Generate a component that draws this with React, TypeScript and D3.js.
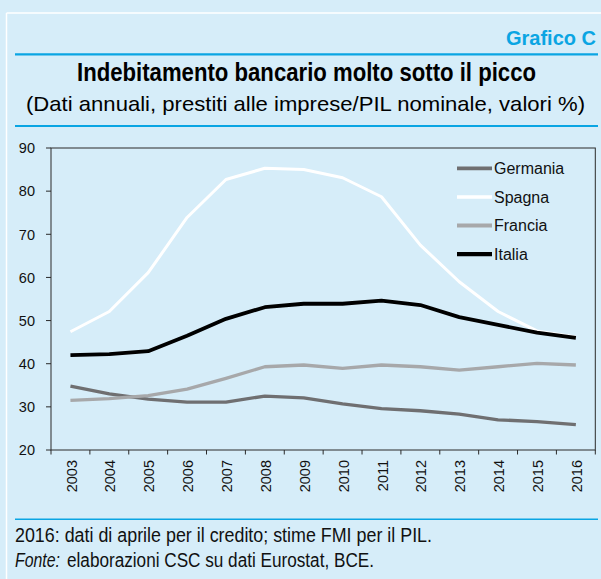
import React from "react";
import * as d3 from "d3";

// anni sull'asse x
const years = ["2003", "2004", "2005", "2006", "2007", "2008", "2009", "2010", "2011", "2012", "2013", "2014", "2015", "2016"];

// prestiti alle imprese / PIL nominale, valori %
const germania = [34.8, 33.0, 31.8, 31.1, 31.1, 32.5, 32.1, 30.7, 29.6, 29.1, 28.3, 27.0, 26.6, 25.9];
const spagna = [47.4, 52.1, 61.1, 73.9, 82.7, 85.3, 85.0, 83.1, 78.7, 67.5, 59.0, 52.1, 47.6, 46.2];
const francia = [31.5, 31.9, 32.6, 34.1, 36.6, 39.3, 39.7, 38.9, 39.7, 39.3, 38.5, 39.3, 40.1, 39.7];
const italia = [42.0, 42.2, 42.9, 46.5, 50.4, 53.1, 53.9, 53.9, 54.6, 53.6, 50.8, 49.0, 47.2, 46.0];

const yTicks = [20, 30, 40, 50, 60, 70, 80, 90];

const seriesNames = ["Germania", "Spagna", "Francia", "Italia"];

const BG = "#d6edf9";
const BLUE = "#0aa5e3";
const FONT = "'Liberation Sans', Arial, Helvetica, sans-serif";
const NARROW = "'Liberation Sans Narrow', 'Arial Narrow', 'Liberation Sans', Arial, sans-serif";

const W = 601;
const H = 579;
const plot = { left: 51, top: 148, right: 595.3, bottom: 450 };

export default function App() {
  const x = d3.scaleBand<string>().domain(years).range([plot.left, plot.right]);
  const y = d3.scaleLinear().domain([20, 90]).range([plot.bottom, plot.top]);
  const bw = x.bandwidth();
  const cx = (yr: string) => (x(yr) as number) + bw / 2;

  const line = d3
    .line<number>()
    .x((_, i) => cx(years[i]))
    .y((d) => y(d));

  const series = [
    { name: seriesNames[0], values: germania, color: "#6f6f71", width: 3.3 },
    { name: seriesNames[1], values: spagna, color: "#ffffff", width: 3 },
    { name: seriesNames[2], values: francia, color: "#a7a8aa", width: 3.3 },
    { name: seriesNames[3], values: italia, color: "#000000", width: 3.8 },
  ];

  return (
    <div style={{ position: "absolute", left: 0, top: 0 }}>
      <svg width={W} height={H} style={{ display: "block" }}>
        <rect x={0} y={0} width={W} height={H} fill={BG} />
        {/* cornice bianca */}
        <line x1={6.5} x2={W} y1={13} y2={13} stroke="#fff" strokeWidth={1.5} />
        <line x1={6.5} x2={6.5} y1={13} y2={H} stroke="#fff" strokeWidth={1.5} />

        <text x={506} y={45} fill={BLUE} fontFamily={NARROW} fontWeight="bold" fontSize={20}
          textLength={90} lengthAdjust="spacingAndGlyphs">Grafico C</text>
        <line x1={15} x2={598} y1={54.3} y2={54.3} stroke={BLUE} strokeWidth={2.2} />

        <text x={306.5} y={80.5} textAnchor="middle" fill="#000" fontFamily={NARROW} fontWeight="bold" fontSize={25}
          textLength={459} lengthAdjust="spacingAndGlyphs">Indebitamento bancario molto sotto il picco</text>
        <text x={305.5} y={110.5} textAnchor="middle" fill="#000" fontFamily={NARROW} fontSize={21}
          textLength={559} lengthAdjust="spacingAndGlyphs">(Dati annuali, prestiti alle imprese/PIL nominale, valori %)</text>
        <line x1={15} x2={598} y1={126} y2={126} stroke={BLUE} strokeWidth={2.2} />

        {/* area del grafico */}
        <rect x={plot.left} y={plot.top} width={plot.right - plot.left} height={plot.bottom - plot.top}
          fill="none" stroke="#2a2a2a" strokeWidth={1} />

        {yTicks.map((t) => (
          <g key={t}>
            <line x1={plot.left - 5} x2={plot.left} y1={y(t)} y2={y(t)} stroke="#2a2a2a" />
            <text x={35} y={y(t)} dy="0.36em" textAnchor="end" fontFamily={FONT} fontSize={14.5} fill="#111">{t}</text>
          </g>
        ))}

        {d3.range(years.length + 1).map((i) => (
          <line key={i} x1={plot.left + i * bw} x2={plot.left + i * bw} y1={plot.bottom} y2={plot.bottom + 4.5}
            stroke="#2a2a2a" />
        ))}
        {years.map((yr) => (
          <text key={yr} transform={`translate(${cx(yr)},${460}) rotate(-90)`} dy="0.42em" textAnchor="end"
            fontFamily={FONT} fontSize={14.5} fill="#111">{yr}</text>
        ))}

        {series.map((s) => (
          <path key={s.name} d={line(s.values) as string} fill="none" stroke={s.color} strokeWidth={s.width}
            strokeLinejoin="round" />
        ))}

        {/* legenda */}
        {series.map((s, i) => (
          <g key={s.name} transform={`translate(0,${168.3 + i * 28.6})`}>
            <line x1={457} x2={492} y1={0} y2={0} stroke={s.color} strokeWidth={s.width + 0.5} />
            <text x={494} y={0} dy="0.36em" fontFamily={FONT} fontSize={16} fill="#111">{s.name}</text>
          </g>
        ))}

        <line x1={15} x2={598} y1={519.3} y2={519.3} stroke={BLUE} strokeWidth={1.5} />
        <text x={15} y={541.7} fontFamily={NARROW} fontSize={19.5} fill="#111" textLength={417}
          lengthAdjust="spacingAndGlyphs">2016: dati di aprile per il credito; stime FMI per il PIL.</text>
        <text x={15} y={566.7} fontFamily={NARROW} fontSize={19.5} fontStyle="italic" fill="#111" textLength={45}
          lengthAdjust="spacingAndGlyphs">Fonte:</text>
        <text x={67} y={566.7} fontFamily={NARROW} fontSize={19.5} fill="#111" textLength={307}
          lengthAdjust="spacingAndGlyphs">elaborazioni CSC su dati Eurostat, BCE.</text>
      </svg>
    </div>
  );
}
